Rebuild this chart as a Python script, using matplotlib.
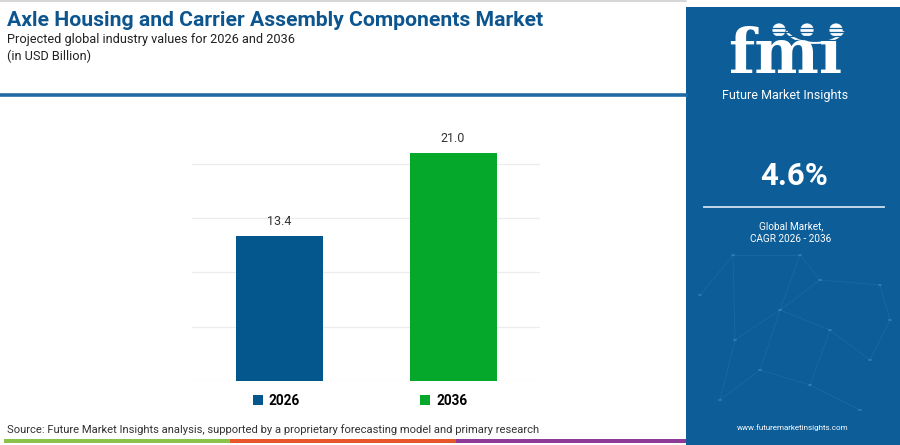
import matplotlib
matplotlib.use("Agg")
import matplotlib.pyplot as plt
import matplotlib.patches as mp
from matplotlib.patches import Rectangle, Circle, Arc
from matplotlib.lines import Line2D

# ---- data ----
years = ["2026", "2036"]
values = [13.4, 21.0]
bar_colors = ["#03578c", "#05a82a"]
cagr_text = "4.6%"
title = "Axle Housing and Carrier Assembly Components Market"
subtitle = "Projected global industry values for 2026 and 2036"
unit = "(in USD Billion)"
source = "Source: Future Market Insights analysis, supported by a proprietary forecasting model and primary research"

W, H = 900, 445
fig = plt.figure(figsize=(W / 100, H / 100), dpi=100)
fig.patch.set_facecolor("white")

def fx(x):
    return x / W

def fy(y):
    return 1 - y / H

FONT = ["Roboto", "DejaVu Sans"]
PANEL = "#0c5d98"
TITLE_C = "#0d558f"

# ---- decorations (figure coords in px) ----
fig.add_artist(Line2D([fx(0), fx(686)], [fy(0.5), fy(0.5)], color="#d0d0d0", lw=1.2))
fig.add_artist(Line2D([fx(0), fx(686)], [fy(95), fy(95)], color="#1f6aa5", lw=2.6))
fig.add_artist(Rectangle((fx(686), 0), fx(900) - fx(686), fy(7), color=PANEL, lw=0))

# bottom stripe
for x0, x1, c in [(4, 230, "#8bc34a"), (230, 456, "#e8572a"), (456, 686, "#8e3a97")]:
    fig.add_artist(Rectangle((fx(x0), fy(443)), fx(x1) - fx(x0), fy(439) - fy(443), color=c, lw=0))

# ---- texts ----
fig.text(fx(7), fy(21), title, fontsize=15.2, fontweight="bold", color=TITLE_C,
         family=FONT, va="center", ha="left")
fig.text(fx(7), fy(39), subtitle, fontsize=9.2, color="#222222", family=FONT, va="center")
fig.text(fx(7), fy(56), unit, fontsize=9.2, color="#222222", family=FONT, va="center")
fig.text(fx(7), fy(430), source, fontsize=8.1, color="#333333", family=FONT, va="center")

# ---- right panel ----
# network decoration
pts = [(700, 295), (733, 255), (800, 255), (820, 280), (880, 285), (735, 340), (780, 310),
       (830, 330), (870, 360), (720, 400), (760, 370), (810, 385), (860, 410), (890, 320)]
edges = [(0, 1), (1, 2), (2, 3), (3, 4), (1, 5), (5, 6), (6, 3), (6, 7), (7, 8), (5, 9),
         (9, 10), (10, 11), (11, 12), (7, 11), (4, 13), (13, 8), (2, 6), (10, 6)]
for a, b in edges:
    fig.add_artist(Line2D([fx(pts[a][0]), fx(pts[b][0])], [fy(pts[a][1]), fy(pts[b][1])],
                          color="#5d9bd0", lw=0.6, alpha=0.18))
for p in pts:
    fig.add_artist(Circle((fx(p[0]), fy(p[1])), 0.0022, transform=fig.transFigure,
                          color="#7fb3e0", alpha=0.3, lw=0))

# logo
fig.text(fx(785), fy(73), "fmı", fontsize=44, fontweight="bold", color="white",
         family=["DejaVu Serif"], ha="center", va="baseline")
for yy in range(28, 75, 4):
    fig.add_artist(Line2D([fx(715), fx(860)], [fy(yy), fy(yy)], color=PANEL, lw=0.9))
for cx in (779, 807, 836):
    e = mp.Ellipse((fx(cx), fy(30)), 14 / W, 14 / H, transform=fig.transFigure,
                   facecolor="white", edgecolor=PANEL, lw=0.5)
    fig.add_artist(e)
arc = Arc((fx(815), fy(26)), 60 / W, 34 / H, theta1=200, theta2=340,
          transform=fig.transFigure, color="white", lw=1.6)
fig.add_artist(arc)
fig.text(fx(785), fy(96), "Future Market Insights", fontsize=9, color="white",
         family=FONT, ha="center", va="center")

fig.text(fx(794), fy(176), cagr_text, fontsize=22.5, fontweight="bold", color="white",
         family=FONT, ha="center", va="center")
fig.add_artist(Line2D([fx(704), fx(884)], [fy(207), fy(207)], color="#cfe0ee", lw=1.3))
fig.text(fx(791), fy(226), "Global Market,", fontsize=7.2, color="white",
         family=FONT, ha="center", va="center")
fig.text(fx(791), fy(239), "CAGR 2026 - 2036", fontsize=7.2, color="white",
         family=FONT, ha="center", va="center")
fig.text(fx(793), fy(428), "www.futuremarketinsights.com", fontsize=5.8, color="white",
         family=FONT, ha="center", va="center")

# ---- bar chart ----
ymax = 24
ax_bottom, ax_top = 381, 381 - ymax * (228 / 21.0)
ax = fig.add_axes([fx(192), fy(ax_bottom), fx(540) - fx(192), fy(ax_top) - fy(ax_bottom)])
ax.set_facecolor("none")
xs = list(range(len(years)))
bars = ax.bar(xs, values, width=0.5, color=bar_colors, label=years, zorder=3)
ax.set_xlim(-0.5, 1.5)
ax.set_ylim(0, ymax)
ax.set_yticks([0, 5, 10, 15, 20])
ax.grid(axis="y", color="#ececec", lw=0.9, zorder=0)
ax.set_xticks([])
ax.tick_params(left=False, labelleft=False)
for s in ax.spines.values():
    s.set_visible(False)
for x, v in zip(xs, values):
    ax.annotate(f"{v:.1f}", (x, v), xytext=(0, 5.5), textcoords="offset points",
                ha="center", va="bottom", fontsize=9, color="#333333", family=FONT)

leg = fig.legend(handles=list(bars), labels=years, loc="center",
                 bbox_to_anchor=(fx(360), fy(401)), ncol=2, frameon=False,
                 handlelength=0.75, handleheight=0.75, handletextpad=0.45,
                 columnspacing=8.8, prop={"family": FONT, "weight": "bold", "size": 9.8})

fig.savefig("out.png", dpi=100, facecolor="white")
